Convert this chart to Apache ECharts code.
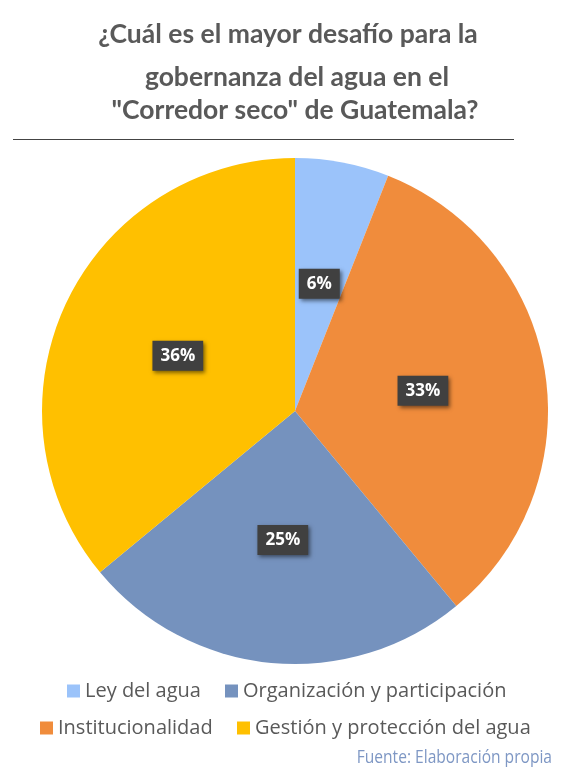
<!DOCTYPE html>
<html>
<head>
<meta charset="utf-8">
<script src="https://cdn.jsdelivr.net/npm/echarts@6/dist/echarts.min.js"></script>
<style>
html,body{margin:0;padding:0;background:#fff;}
#chart{width:569px;height:769px;}
</style>
</head>
<body>
<div id="chart"></div>
<script>
var titleLines = ['¿Cuál es el mayor desafío para la', 'gobernanza del agua en el', '"Corredor seco" de Guatemala?'];
var categories = ['Ley del agua', 'Institucionalidad', 'Organización y participación', 'Gestión y protección del agua'];
var values = [6, 33, 25, 36];
var colors = ['#9BC3FA', '#F08C3C', '#7592BE', '#FFC000'];
var legendRow1 = ['Ley del agua', 'Organización y participación'];
var legendRow2 = ['Institucionalidad', 'Gestión y protección del agua'];
var sourceText = 'Fuente: Elaboración propia';

var chart = echarts.init(document.getElementById('chart'));
var titleFont = 'bold 26.5px Lato, "Open Sans", sans-serif';
var legendText = {color: '#595959', fontSize: 20, fontFamily: '"Open Sans", sans-serif'};
function leg(name, left, top) {
  return {data: [name], left: left, top: top, itemWidth: 13, itemHeight: 13, itemGap: 0, icon: 'rect', textStyle: legendText, selectedMode: false, padding: 0};
}
var option = {
  animation: false,
  color: colors,
  legend: [
    leg(legendRow1[0], 67, 681),
    leg(legendRow1[1], 225, 681),
    leg(legendRow2[0], 40, 718),
    leg(legendRow2[1], 237, 718)
  ],
  graphic: [
    {type: 'text', x: 288, y: 48, style: {text: titleLines[0], font: titleFont, fill: '#595959', textAlign: 'center', textVerticalAlign: 'bottom'}},
    {type: 'text', x: 297, y: 91, style: {text: titleLines[1], font: titleFont, fill: '#595959', textAlign: 'center', textVerticalAlign: 'bottom'}},
    {type: 'text', x: 295, y: 124, style: {text: titleLines[2], font: titleFont, fill: '#595959', textAlign: 'center', textVerticalAlign: 'bottom'}},
    {type: 'line', shape: {x1: 13, y1: 139.5, x2: 514, y2: 139.5}, style: {stroke: '#444', lineWidth: 1}},
    {type: 'text', x: 552, y: 758, scaleX: 0.82, style: {text: sourceText, font: '19px "Open Sans", sans-serif', fill: '#7E97C4', textAlign: 'right', textVerticalAlign: 'middle'}}
  ],
  series: [{
    type: 'pie',
    center: [295, 411],
    radius: [0, 253],
    startAngle: 90,
    clockwise: true,
    data: categories.map(function (c, i) { return {name: c, value: values[i]}; }),
    itemStyle: {borderWidth: 0},
    label: {
      show: true,
      position: 'inside',
      formatter: function (p) { return p.value + '%'; },
      color: '#fff',
      fontWeight: 'bold',
      fontSize: 17,
      fontFamily: '"Open Sans", sans-serif',
      backgroundColor: '#404040',
      padding: [7, 8, 6, 8],
      shadowColor: 'rgba(0,0,0,0.5)',
      shadowBlur: 4,
      shadowOffsetX: 2,
      shadowOffsetY: 2
    },
    labelLine: {show: false},
    emphasis: {disabled: true}
  }]
};
chart.setOption(option);
</script>
</body>
</html>
